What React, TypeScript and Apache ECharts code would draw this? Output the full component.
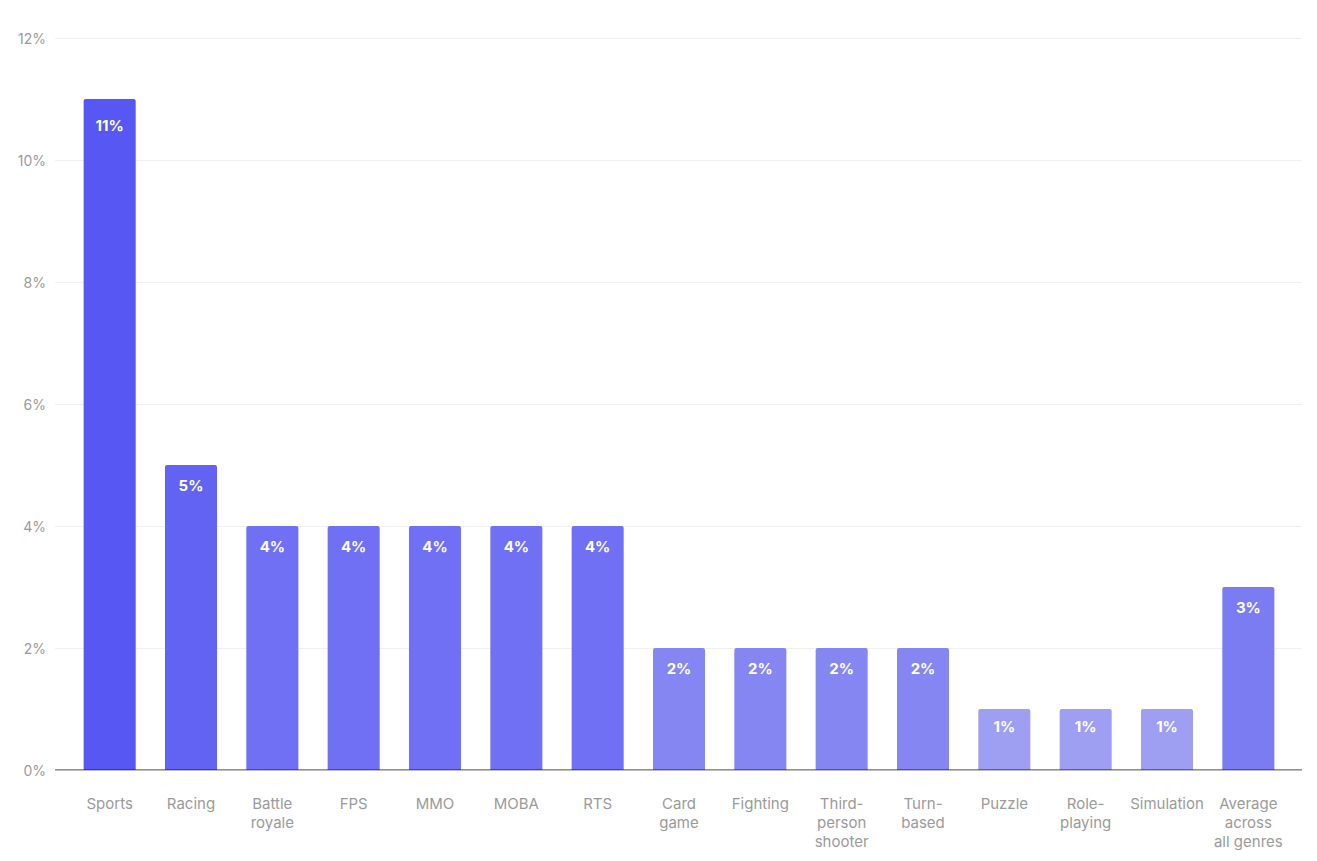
import React, { useEffect, useRef } from "react";
import * as echarts from "echarts";

const categories = [
  "Sports",
  "Racing",
  "Battle\nroyale",
  "FPS",
  "MMO",
  "MOBA",
  "RTS",
  "Card\ngame",
  "Fighting",
  "Third-\nperson\nshooter",
  "Turn-\nbased",
  "Puzzle",
  "Role-\nplaying",
  "Simulation",
  "Average\nacross\nall genres",
];
const values = [11, 5, 4, 4, 4, 4, 4, 2, 2, 2, 2, 1, 1, 1, 3];
const barColors = [
  "#5757F4",
  "#6363F3",
  "#7070F5",
  "#7070F5",
  "#7070F5",
  "#7070F5",
  "#7070F5",
  "#8686F3",
  "#8686F3",
  "#8686F3",
  "#8686F3",
  "#9E9EF3",
  "#9E9EF3",
  "#9E9EF3",
  "#7B7BF2",
];
const yTicks = [0, 2, 4, 6, 8, 10, 12];

const FONT = "Inter, 'Noto Sans', sans-serif";

export default function App() {
  const ref = useRef<HTMLDivElement>(null);
  useEffect(() => {
    if (!ref.current) return;
    const chart = echarts.init(ref.current, undefined, { renderer: "svg" });
    const top = 38;
    const bottom = 91;
    chart.setOption({
      animation: false,
      textStyle: { fontFamily: FONT },
      grid: [
        { left: 55, right: 15, top, bottom },
        { left: 69, right: 28, top, bottom },
      ],
      xAxis: [
        {
          type: "value",
          gridIndex: 0,
          min: 0,
          max: 1,
          axisLine: { show: false },
          axisTick: { show: false },
          axisLabel: { show: false },
          splitLine: { show: false },
        },
        {
          type: "category",
          gridIndex: 1,
          data: categories,
          axisLine: { show: false },
          axisTick: { show: false },
          axisLabel: {
            color: "#9A9A9A",
            fontSize: 15,
            lineHeight: 19,
            margin: 24,
            interval: 0,
            fontFamily: FONT,
          },
        },
      ],
      yAxis: [
        {
          type: "value",
          gridIndex: 0,
          min: yTicks[0],
          max: yTicks[yTicks.length - 1],
          interval: 2,
          axisLine: { show: false },
          axisTick: { show: false },
          axisLabel: {
            color: "#9A9A9A",
            fontSize: 14,
            margin: 9,
            formatter: (v: number) => `${v}%`,
            fontFamily: FONT,
          },
          splitLine: { lineStyle: { color: "#EFEFEF", width: 1 } },
        },
        {
          type: "value",
          gridIndex: 1,
          min: yTicks[0],
          max: yTicks[yTicks.length - 1],
          interval: 2,
          axisLine: { show: false },
          axisTick: { show: false },
          axisLabel: { show: false },
          splitLine: { show: false },
        },
      ],
      series: [
        {
          type: "line",
          xAxisIndex: 0,
          yAxisIndex: 0,
          data: [
            [0, 0],
            [1, 0],
          ],
          symbol: "none",
          lineStyle: { color: "#222222", width: 1.2 },
          silent: true,
          z: 5,
        },
        {
          type: "bar",
          xAxisIndex: 1,
          yAxisIndex: 1,
          barCategoryGap: "36%",
          data: values.map((v, i) => ({
            value: v,
            itemStyle: { color: barColors[i], borderRadius: [2, 2, 0, 0] },
            label: v > 10 ? { distance: 19 } : v < 2 ? { distance: 10 } : undefined,
          })),
          label: {
            show: true,
            position: "insideTop",
            distance: 13,
            color: "#FFFFFF",
            fontWeight: "bold",
            fontSize: 15,
            fontFamily: FONT,
            formatter: (p: any) => `${p.value}%`,
          },
          z: 3,
        },
      ],
    });
    return () => chart.dispose();
  }, []);
  return (
    <div
      ref={ref}
      style={{ position: "fixed", left: 0, top: 0, width: 1317, height: 861, background: "#fff" }}
    />
  );
}
